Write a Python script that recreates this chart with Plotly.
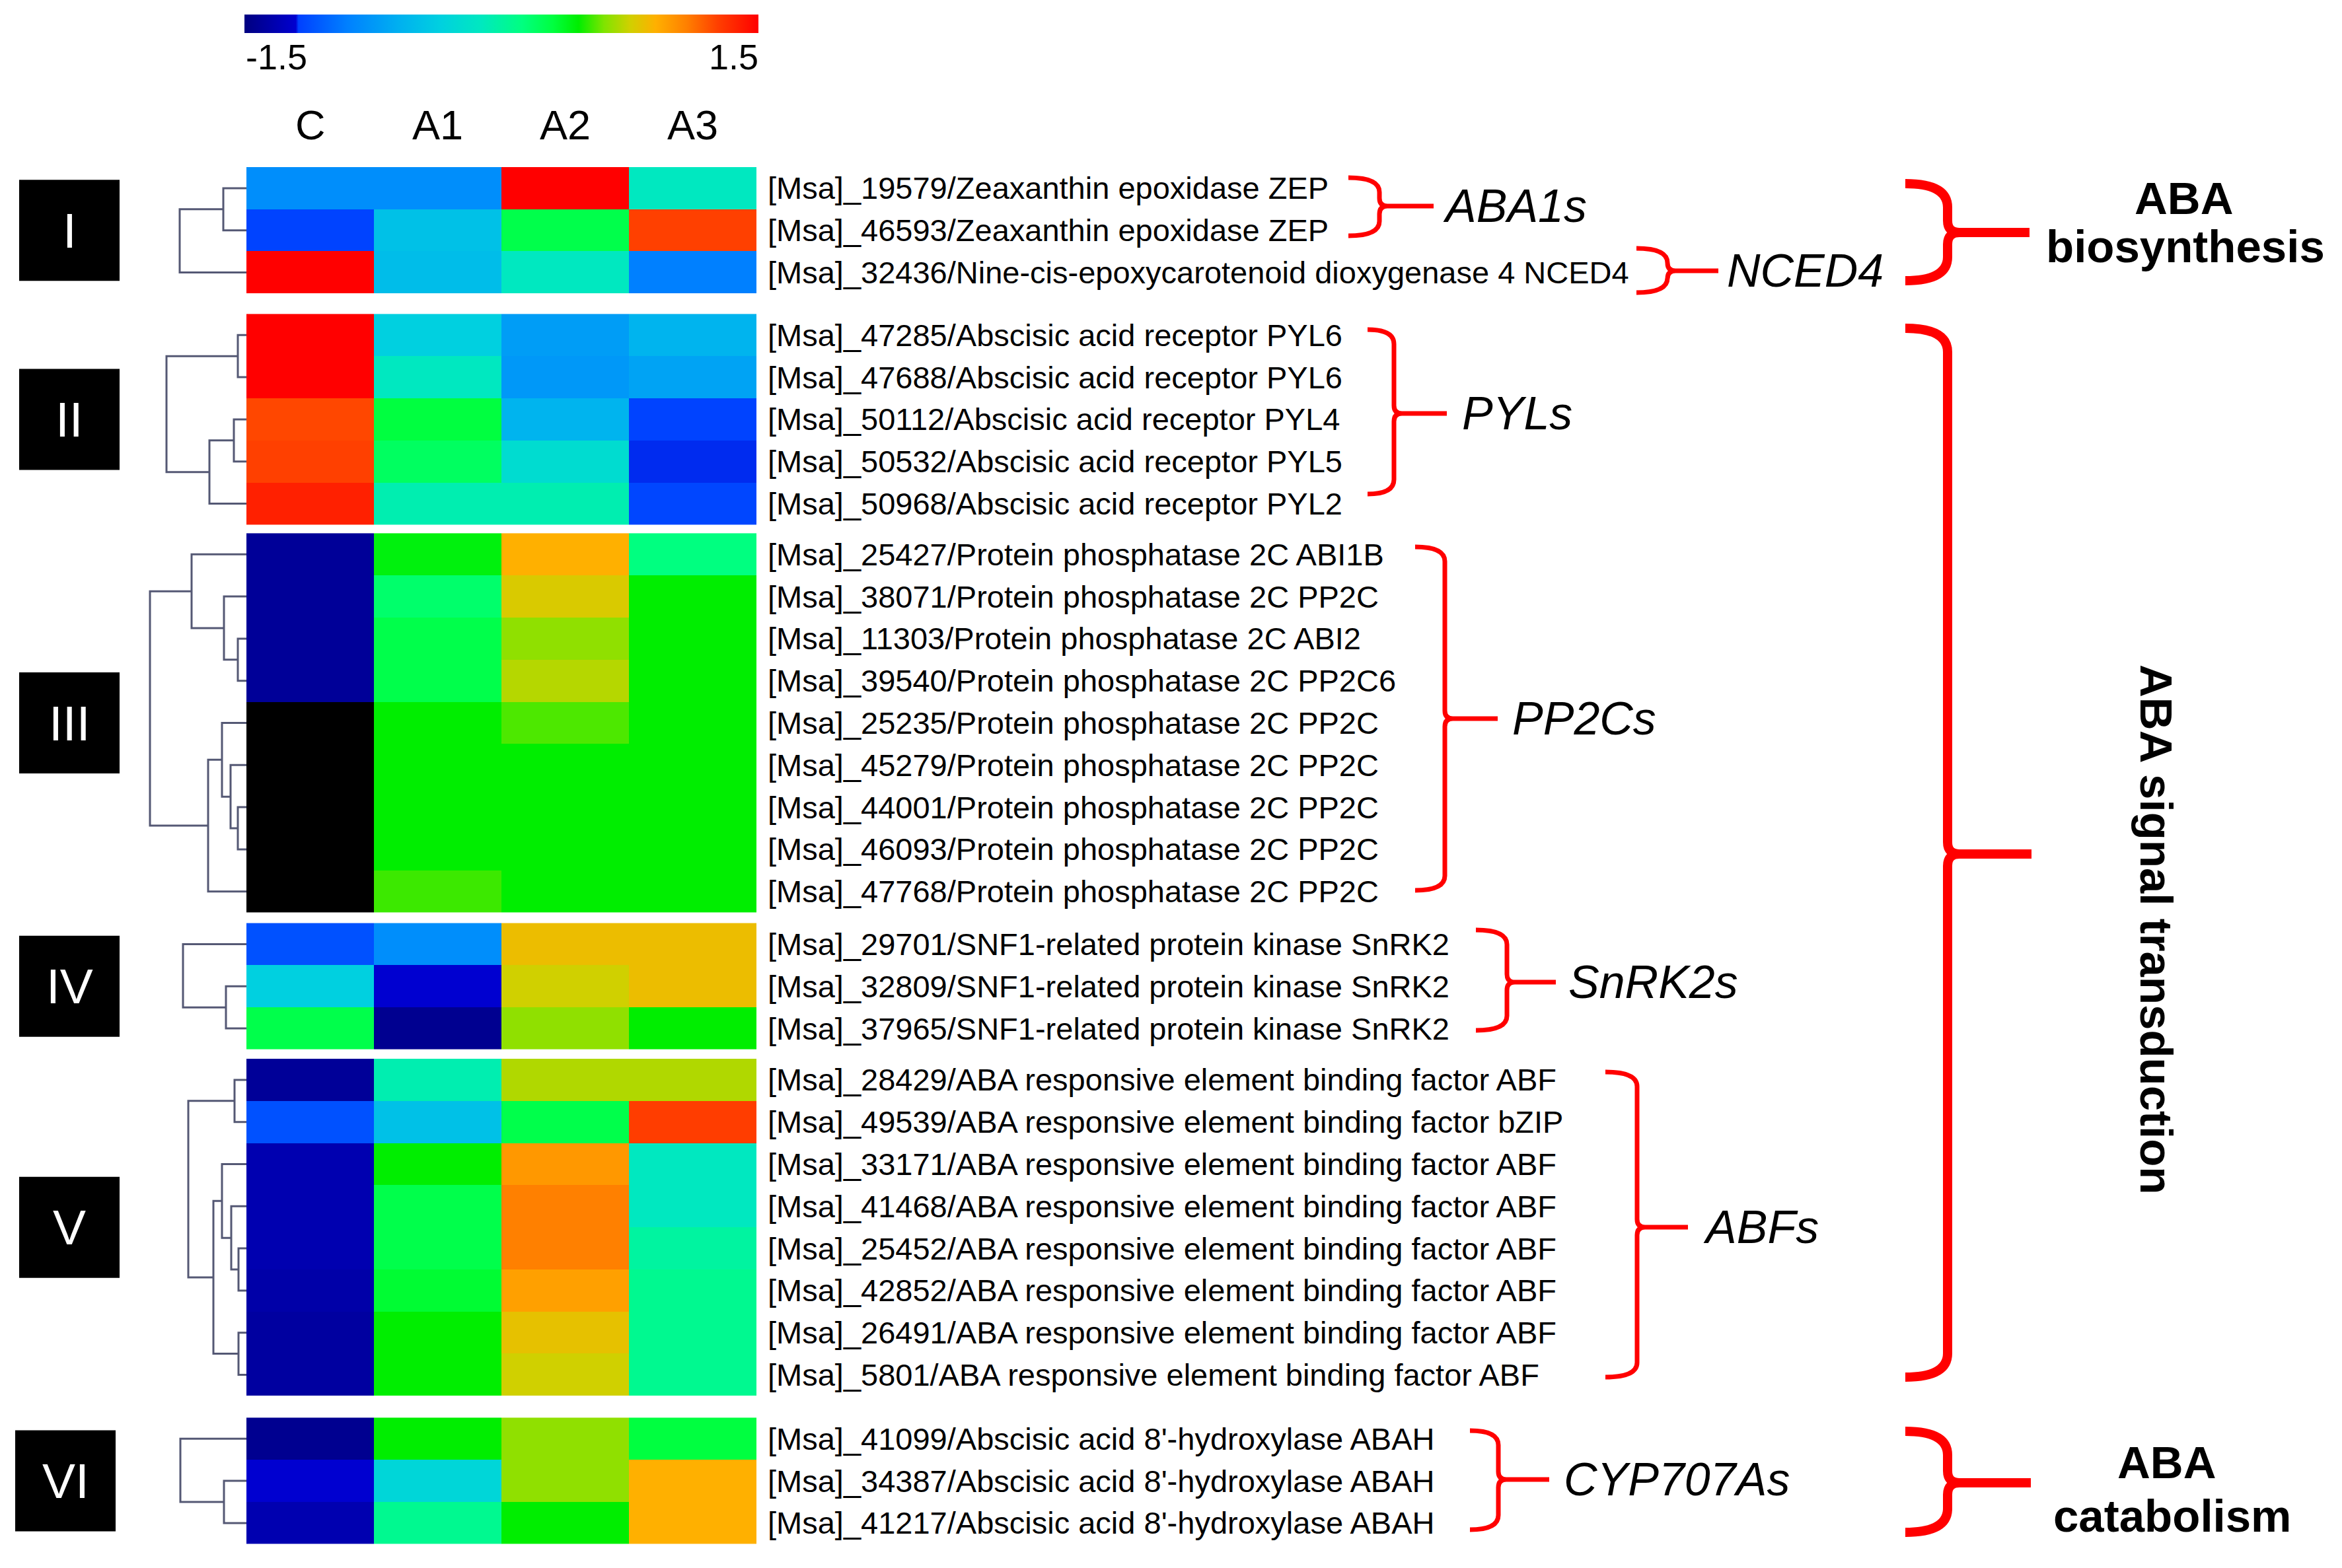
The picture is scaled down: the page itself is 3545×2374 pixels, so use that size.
import plotly.graph_objects as go

W, H = 3545, 2374
PAD = 8  # default body margin of the html page

# ---------------- data ----------------
columns = ["C", "A1", "A2", "A3"]
block_names = ["I", "II", "III", "IV", "V", "VI"]

genes_I = [
    "[Msa]_19579/Zeaxanthin epoxidase ZEP",
    "[Msa]_46593/Zeaxanthin epoxidase ZEP",
    "[Msa]_32436/Nine-cis-epoxycarotenoid dioxygenase 4 NCED4",
]
genes_II = [
    "[Msa]_47285/Abscisic acid receptor PYL6",
    "[Msa]_47688/Abscisic acid receptor PYL6",
    "[Msa]_50112/Abscisic acid receptor PYL4",
    "[Msa]_50532/Abscisic acid receptor PYL5",
    "[Msa]_50968/Abscisic acid receptor PYL2",
]
genes_III = [
    "[Msa]_25427/Protein phosphatase 2C ABI1B",
    "[Msa]_38071/Protein phosphatase 2C PP2C",
    "[Msa]_11303/Protein phosphatase 2C ABI2",
    "[Msa]_39540/Protein phosphatase 2C PP2C6",
    "[Msa]_25235/Protein phosphatase 2C PP2C",
    "[Msa]_45279/Protein phosphatase 2C PP2C",
    "[Msa]_44001/Protein phosphatase 2C PP2C",
    "[Msa]_46093/Protein phosphatase 2C PP2C",
    "[Msa]_47768/Protein phosphatase 2C PP2C",
]
genes_IV = [
    "[Msa]_29701/SNF1-related protein kinase SnRK2",
    "[Msa]_32809/SNF1-related protein kinase SnRK2",
    "[Msa]_37965/SNF1-related protein kinase SnRK2",
]
genes_V = [
    "[Msa]_28429/ABA responsive element binding factor ABF",
    "[Msa]_49539/ABA responsive element binding factor bZIP",
    "[Msa]_33171/ABA responsive element binding factor ABF",
    "[Msa]_41468/ABA responsive element binding factor ABF",
    "[Msa]_25452/ABA responsive element binding factor ABF",
    "[Msa]_42852/ABA responsive element binding factor ABF",
    "[Msa]_26491/ABA responsive element binding factor ABF",
    "[Msa]_5801/ABA responsive element binding factor ABF",
]
genes_VI = [
    "[Msa]_41099/Abscisic acid 8'-hydroxylase ABAH",
    "[Msa]_34387/Abscisic acid 8'-hydroxylase ABAH",
    "[Msa]_41217/Abscisic acid 8'-hydroxylase ABAH",
]

# z-scores (C, A1, A2, A3); None = missing (drawn black)
values_I = [
    [-0.81, -0.81, 1.50, -0.12],
    [-1.17, -0.47, 0.27, 1.26],
    [1.50, -0.50, -0.12, -0.90],
]
values_II = [
    [1.50, -0.36, -0.72, -0.57],
    [1.50, -0.12, -0.75, -0.68],
    [1.24, 0.30, -0.57, -1.17],
    [1.26, 0.21, -0.24, -1.19],
    [1.38, -0.06, -0.06, -1.16],
]
values_III = [
    [-1.41, 0.42, 0.90, 0.12],
    [-1.41, 0.18, 0.78, 0.45],
    [-1.41, 0.27, 0.63, 0.45],
    [-1.41, 0.27, 0.70, 0.45],
    [None, 0.45, 0.54, 0.45],
    [None, 0.45, 0.45, 0.45],
    [None, 0.45, 0.45, 0.45],
    [None, 0.45, 0.45, 0.45],
    [None, 0.52, 0.45, 0.45],
]
values_IV = [
    [-1.11, -0.81, 0.84, 0.84],
    [-0.36, -1.20, 0.75, 0.84],
    [0.27, -1.44, 0.63, 0.45],
]
values_V = [
    [-1.41, -0.06, 0.69, 0.69],
    [-1.11, -0.47, 0.27, 1.27],
    [-1.32, 0.45, 0.99, -0.12],
    [-1.32, 0.27, 1.08, -0.12],
    [-1.32, 0.27, 1.08, 0.00],
    [-1.35, 0.33, 0.96, 0.06],
    [-1.38, 0.45, 0.82, 0.06],
    [-1.38, 0.45, 0.75, 0.06],
]
values_VI = [
    [-1.44, 0.45, 0.63, 0.30],
    [-1.20, -0.30, 0.63, 0.90],
    [-1.32, 0.06, 0.45, 0.90],
]

# dendrogram merges: (node a, node b, link height); new nodes numbered from n
dendro_I = [(0, 1, 35), (3, 2, 101)]
dendro_II = [(0, 1, 13), (2, 3, 19), (6, 4, 56), (5, 7, 121)]
dendro_III = [(2, 3, 13), (1, 9, 34), (0, 10, 83), (6, 7, 13), (5, 12, 24),
              (4, 13, 37), (14, 8, 58), (11, 15, 146)]
dendro_IV = [(1, 2, 31), (0, 3, 96)]
dendro_V = [(0, 1, 18), (4, 5, 12), (3, 9, 23), (2, 10, 37), (6, 7, 12),
            (11, 12, 50), (8, 13, 88)]
dendro_VI = [(1, 2, 34), (0, 3, 100)]

genes = [genes_I, genes_II, genes_III, genes_IV, genes_V, genes_VI]
values = [values_I, values_II, values_III, values_IV, values_V, values_VI]
dendros = [dendro_I, dendro_II, dendro_III, dendro_IV, dendro_V, dendro_VI]

colorbar_ticks = ["-1.5", "1.5"]

# ---------------- layout constants ----------------
FONT = "Liberation Sans, Arial, Helvetica, sans-serif"
HM_LEFT = 373
COL_W = 193
ROW_H = 63.8
TOP0 = 253
GAPS = [31, 13, 16, 14, 33]
LABEL_X = 1160
FW, FH = W - PAD, H - PAD

CS = [
    [0.000, "#000080"], [0.100, "#0000d0"], [0.105, "#0040ff"],
    [0.200, "#0080ff"], [0.300, "#00b0f0"], [0.380, "#00d0e0"],
    [0.460, "#00e8c0"], [0.540, "#00ff80"], [0.600, "#00ff40"],
    [0.650, "#00ee00"], [0.700, "#80e400"], [0.750, "#d0d000"],
    [0.800, "#ffb000"], [0.860, "#ff8000"], [0.920, "#ff4000"],
    [1.000, "#ff0000"],
]

block_tops = [TOP0]
for b in range(1, 6):
    block_tops.append(block_tops[-1] + len(genes[b - 1]) * ROW_H + GAPS[b - 1])

col_x = [HM_LEFT + (j + 0.5) * COL_W for j in range(len(columns))]

fig = go.Figure()
annotations = []
shapes = []

DCOL = "#545874"

for b in range(6):
    n = len(genes[b])
    top = block_tops[b]
    ys = [top + (i + 0.5) * ROW_H for i in range(n)]
    z = values[b]
    fig.add_trace(go.Heatmap(
        z=z, x=col_x, y=ys, colorscale=CS, zmin=-1.5, zmax=1.5,
        showscale=(b == 0), hoverinfo="skip",
        colorbar=dict(orientation="h", x=(370 - PAD) / FW, xanchor="left",
                      y=1 - (22 - PAD) / FH, yanchor="top", len=778,
                      lenmode="pixels", thickness=28, thicknessmode="pixels",
                      outlinewidth=0, showticklabels=False, ticks="",
                      xpad=0, ypad=0),
    ))
    mask = [[1 if v is None else None for v in row] for row in z]
    if any(m is not None for row in mask for m in row):
        fig.add_trace(go.Heatmap(
            z=mask, x=col_x, y=ys, colorscale=[[0, "black"], [1, "black"]],
            zmin=0, zmax=1, showscale=False, hoverinfo="skip"))

    # dendrogram
    pos = {i: (HM_LEFT, ys[i]) for i in range(n)}
    dx, dy = [], []
    for k, (a, c, h) in enumerate(dendros[b]):
        xa, ya = pos[a]
        xc, yc = pos[c]
        xm = HM_LEFT - h
        dx += [xa, xm, xm, xc, None]
        dy += [ya, ya, yc, yc, None]
        pos[n + k] = (xm, (ya + yc) / 2)
    fig.add_trace(go.Scatter(x=dx, y=dy, mode="lines",
                             line=dict(color=DCOL, width=3),
                             hoverinfo="skip", showlegend=False))

    # gene labels
    for i, g in enumerate(genes[b]):
        annotations.append(dict(x=LABEL_X, y=ys[i], text=g, showarrow=False,
                                xanchor="left", yanchor="middle",
                                font=dict(family=FONT, size=47, color="black")))

    # roman numeral box
    cy = top + n * ROW_H / 2
    bx = 99 if b == 5 else 105
    shapes.append(dict(type="rect", xref="x", yref="y",
                       x0=bx - 76, x1=bx + 76, y0=cy - 76.5, y1=cy + 76.5,
                       fillcolor="black", line=dict(width=0)))
    annotations.append(dict(x=bx, y=cy, text=block_names[b], showarrow=False,
                            xanchor="center", yanchor="middle",
                            font=dict(family=FONT, size=75, color="white")))

# column labels
for j, c in enumerate(columns):
    annotations.append(dict(x=col_x[j], y=189, text=c, showarrow=False,
                            xanchor="center", yanchor="middle",
                            font=dict(family=FONT, size=63, color="black")))

# colorbar tick labels
annotations.append(dict(x=370, y=86, text=colorbar_ticks[0], showarrow=False,
                        xanchor="left", yanchor="middle",
                        font=dict(family=FONT, size=54, color="black")))
annotations.append(dict(x=1150, y=86, text=colorbar_ticks[1], showarrow=False,
                        xanchor="right", yanchor="middle",
                        font=dict(family=FONT, size=54, color="black")))


def bracket(xl, xv, xn, yt, yb, yn, r, c, width):
    p = (f"M {xl},{yt} Q {xv},{yt} {xv},{yt + r} L {xv},{yn - c} "
         f"Q {xv},{yn} {xv + c},{yn} L {xn},{yn} "
         f"M {xv + c},{yn} Q {xv},{yn} {xv},{yn + c} L {xv},{yb - r} "
         f"Q {xv},{yb} {xl},{yb}")
    return dict(type="path", xref="x", yref="y", path=p,
                line=dict(color="#ff0000", width=width))


# small brackets: label, x_left, x_vert, x_nub, y_top, y_bot, y_nub, text_x
small = [
    ("ABA1s", 2041, 2088, 2170, 269, 357, 312, 2182),
    ("NCED4", 2477, 2524, 2601, 376, 443, 410, 2612),
    ("PYLs", 2070, 2110, 2190, 499, 748, 626, 2211),
    ("PP2Cs", 2142, 2187, 2267, 828, 1348, 1088, 2287),
    ("SnRK2s", 2234, 2281, 2355, 1408, 1560, 1487, 2372),
    ("ABFs", 2430, 2478, 2555, 1623, 2085, 1858, 2576),
    ("CYP707As", 2225, 2268, 2345, 2166, 2316, 2240, 2365),
]
for lab, xl, xv, xn, yt, yb, yn, tx in small:
    shapes.append(bracket(xl, xv, xn, yt, yb, yn, 22, 12, 7))
    annotations.append(dict(x=tx, y=yn, text=f"<i>{lab}</i>", showarrow=False,
                            xanchor="left", yanchor="middle",
                            font=dict(family=FONT, size=70, color="black")))

# big brackets
big = [
    (2884, 2948, 3072, 278, 425, 352),
    (2884, 2948, 3075, 497, 2085, 1293),
    (2884, 2948, 3074, 2167, 2320, 2245),
]
for xl, xv, xn, yt, yb, yn in big:
    shapes.append(bracket(xl, xv, xn, yt, yb, yn, 36, 18, 14))

BOLD = dict(family=FONT, size=69, color="black")
annotations += [
    dict(x=3306, y=300, text="<b>ABA</b>", showarrow=False, xanchor="center",
         yanchor="middle", font=BOLD),
    dict(x=3308, y=373, text="<b>biosynthesis</b>", showarrow=False,
         xanchor="center", yanchor="middle", font=BOLD),
    dict(x=3264, y=1407, text="<b>ABA signal transduction</b>", showarrow=False,
         xanchor="center", yanchor="middle", textangle=90, font=BOLD),
    dict(x=3280, y=2214, text="<b>ABA</b>", showarrow=False, xanchor="center",
         yanchor="middle", font=BOLD),
    dict(x=3288, y=2295, text="<b>catabolism</b>", showarrow=False,
         xanchor="center", yanchor="middle", font=BOLD),
]

fig.update_layout(
    width=FW, height=FH, margin=dict(l=0, r=0, t=0, b=0),
    paper_bgcolor="white", plot_bgcolor="white",
    xaxis=dict(range=[PAD, W], visible=False, fixedrange=True),
    yaxis=dict(range=[H, PAD], visible=False, fixedrange=True),
    annotations=annotations, shapes=shapes, showlegend=False,
)

fig.write_html("out.html")
